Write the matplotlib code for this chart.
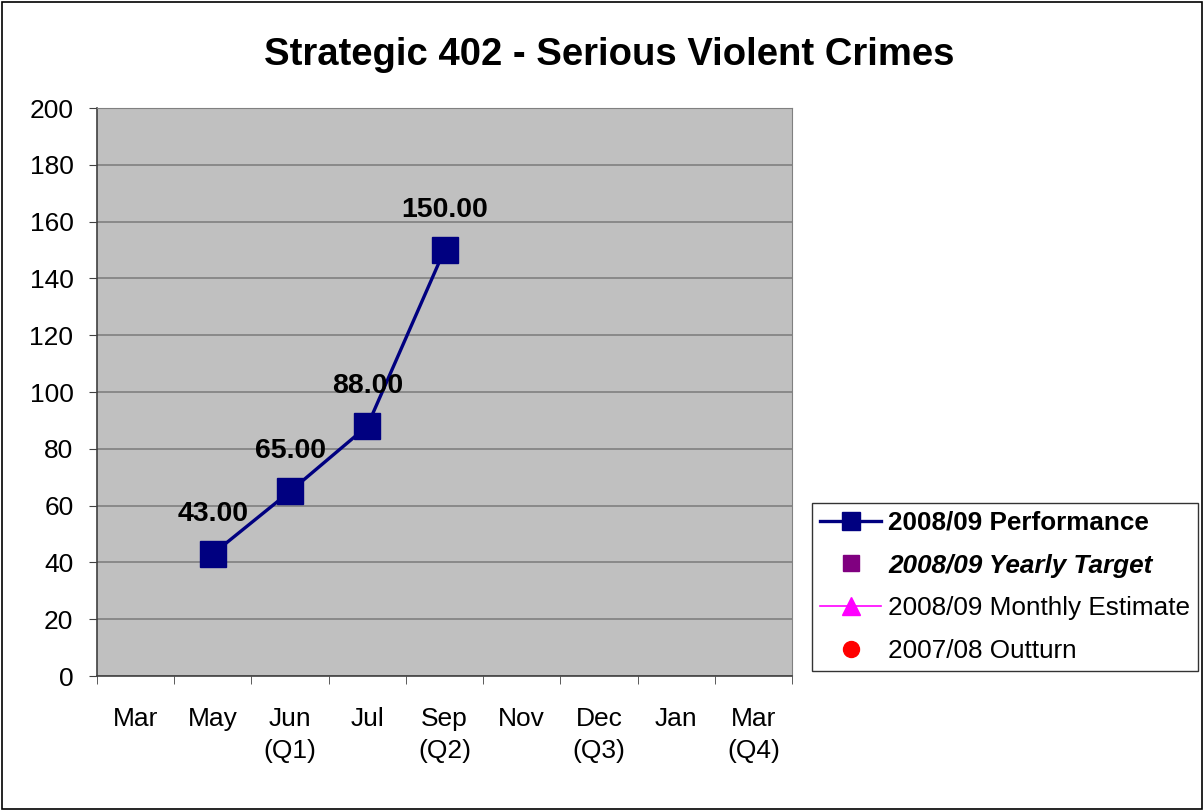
import matplotlib
matplotlib.use("Agg")
import matplotlib.pyplot as plt
from matplotlib.lines import Line2D
from matplotlib.patches import Rectangle
import numpy as np

plt.rcParams['font.family'] = ['Liberation Sans', 'DejaVu Sans']

categories = ["Mar", "May", "Jun\n(Q1)", "Jul", "Sep\n(Q2)", "Nov", "Dec\n(Q3)", "Jan", "Mar\n(Q4)"]
perf_idx = [1, 2, 3, 4]
perf_values = [43.0, 65.0, 88.0, 150.0]
y_ticks = list(range(0, 201, 20))

fig = plt.figure(figsize=(12.04, 8.11), dpi=100)
fig.patches.append(Rectangle((0.002, 0.002), 0.996, 0.996, transform=fig.transFigure,
                             fill=False, edgecolor='black', linewidth=1.2))

ax = fig.add_axes([97/1204, 1-676/811, (792-97)/1204, (676-108)/811])
ax.set_facecolor('#C0C0C0')
ax.set_xlim(-0.5, len(categories)-0.5)
ax.set_ylim(0, 200)
ax.set_yticks(y_ticks)
ax.yaxis.grid(True, color='#808080', linewidth=1.2)
ax.set_axisbelow(True)

ax.set_xticks(range(len(categories)))
ax.set_xticklabels(categories, fontsize=19, linespacing=1.45)
ax.tick_params(axis='x', which='major', length=0, pad=22)
ax.set_xticks(np.arange(-0.5, len(categories), 1.0), minor=True)
ax.tick_params(axis='x', which='minor', length=6, direction='out', color='#404040')
ax.tick_params(axis='y', labelsize=19, length=6, direction='out', pad=11, color='#404040')

for s in ['top', 'right']:
    ax.spines[s].set_color('#808080')
for s in ['left', 'bottom']:
    ax.spines[s].set_color('#404040')
    ax.spines[s].set_linewidth(1.2)

ax.plot(perf_idx, perf_values, color='#000080', linewidth=2.4, marker='s',
        markersize=18.5, markerfacecolor='#000080', markeredgecolor='#000080', zorder=3)
for x, v in zip(perf_idx, perf_values):
    ax.annotate(f"{v:.2f}", (x, v), xytext=(0, 29), textcoords='offset points',
                ha='center', va='center', fontsize=20.5, fontweight='bold')

fig.text(609/1204, 1-55/811, "Strategic 402 - Serious Violent Crimes", ha='center', va='center',
         fontsize=27.5, fontweight='bold')

handles = [
    Line2D([], [], color='#000080', linewidth=2.4, marker='s', markersize=13,
           markerfacecolor='#000080', markeredgecolor='#000080'),
    Line2D([], [], color='none', marker='s', markersize=11,
           markerfacecolor='#800080', markeredgecolor='#800080'),
    Line2D([], [], color='#FF00FF', linewidth=1.2, marker='^', markersize=13,
           markerfacecolor='#FF00FF', markeredgecolor='#FF00FF'),
    Line2D([], [], color='none', marker='o', markersize=11.5,
           markerfacecolor='#FF0000', markeredgecolor='#FF0000'),
]
labels = ["2008/09 Performance", "2008/09 Yearly Target", "2008/09 Monthly Estimate", "2007/08 Outturn"]
leg = fig.legend(handles, labels, loc='upper left',
                 bbox_to_anchor=(812/1204, 1-503/811), fontsize=18.8,
                 frameon=True, fancybox=False, edgecolor='black', handlelength=2.35,
                 labelspacing=0.72, borderpad=0.3, handletextpad=0.27, borderaxespad=0)
leg.get_frame().set_linewidth(1.0)
texts = leg.get_texts()
texts[0].set_fontweight('bold')
texts[1].set_fontweight('bold')
texts[1].set_fontstyle('italic')

fig.savefig("out.png", dpi=100)
